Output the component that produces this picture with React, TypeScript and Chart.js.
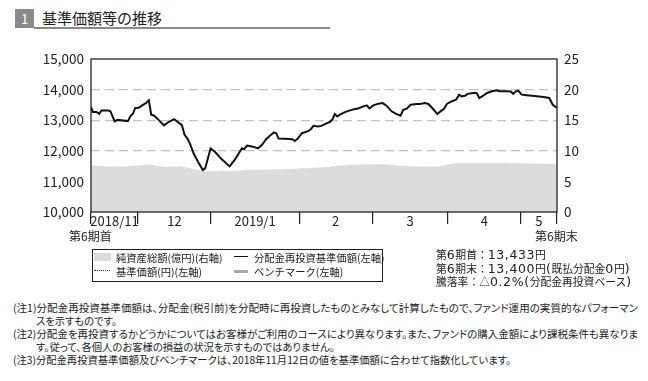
import React, { useEffect, useLayoutEffect, useRef } from "react";
import { Chart, registerables } from "chart.js";

Chart.register(...registerables);

// ---- data ----
const monthLabels = ["2018/11", "12", "2019/1", "2", "3", "4", "5"];
// month boundaries on the session-index axis (0 = 第6期首, 120 = 第6期末)
const monthBounds = [0, 12.1, 30.9, 53.6, 72.4, 91.9, 110.7, 120];

// 分配金再投資基準価額 (left axis, 円)
const navX = [
  0, 0.5, 1.4, 2.1, 2.7, 4.4, 5.0, 6.1, 6.8, 9.5, 10.2, 10.8, 11.4, 12.3, 13.4, 14.2, 14.9, 15.5, 16.2,
  17.4, 18.8, 19.8, 21.4, 22.2, 23.4, 24.1, 24.8, 25.5, 26.5, 27.7, 28.8, 29.4, 30.8, 31.9, 33.6, 35.7,
  37.0, 38.3, 38.9, 39.4, 40.2, 41.7, 43.0, 44.0, 45.1, 46.3, 47.1, 47.7, 48.3, 49.9, 51.8, 52.5, 53.3,
  54.3, 55.9, 56.6, 57.3, 58.5, 59.3, 60.8, 61.5, 62.2, 62.8, 63.4, 64.1, 65.4, 66.7, 68.0, 68.8, 70.1,
  71.0, 71.7, 72.7, 74.0, 75.1, 76.1, 77.4, 78.7, 79.7, 80.4, 81.3, 82.3, 83.9, 84.7, 86.0, 86.9, 88.1,
  89.2, 90.0, 90.9, 91.7, 92.9, 94.0, 94.8, 95.4, 96.3, 97.0, 98.4, 99.3, 100.0, 101.0, 102.0, 103.2,
  104.5, 105.1, 106.6, 108.1, 108.7, 109.4, 110.0, 110.9, 112.2, 114.8, 116.5, 118.0, 118.9, 120,
];
const navValues = [
  13433, 13267, 13267, 13210, 13320, 13320, 13290, 12960, 13010, 12970, 13145, 13210, 13400, 13410, 13500,
  13560, 13650, 13180, 13155, 13010, 12830, 12925, 13035, 12960, 12840, 12520, 12410, 12225, 11895, 11610,
  11370, 11425, 12080, 11970, 11730, 11490, 11700, 11970, 12080, 12050, 12170, 12135, 12080, 12190, 12380,
  12520, 12600, 12575, 12400, 12390, 12380, 12320, 12410, 12575, 12640, 12705, 12815, 12795, 12815, 12905,
  12940, 13035, 13200, 13125, 13180, 13265, 13320, 13365, 13385, 13450, 13485, 13385, 13485, 13540, 13560,
  13475, 13290, 13200, 13145, 13340, 13375, 13505, 13530, 13530, 13560, 13530, 13365, 13200, 13290, 13375,
  13540, 13615, 13670, 13835, 13780, 13800, 13860, 13890, 13890, 13725, 13800, 13890, 13945, 13980, 13945,
  13945, 13935, 13860, 13945, 13965, 13835, 13815, 13780, 13760, 13725, 13505, 13400,
];

// 純資産総額 (right axis, 億円)
const assetX = [0, 6.6, 11.8, 15.2, 19.5, 23.4, 28.8, 35.7, 40.9, 49.4, 56.4, 61.3, 62.3, 64.4, 74.4, 81.3, 89.0, 93.0, 94.2, 104.5, 120];
const assetValues = [7.6, 7.4, 7.6, 7.7, 7.4, 7.4, 6.75, 6.7, 6.9, 7.0, 7.2, 7.35, 7.5, 7.6, 7.8, 7.5, 7.45, 7.9, 8.0, 8.0, 7.85];

const leftTicks = [10000, 11000, 12000, 13000, 14000, 15000];
const rightTicks = [0, 5, 10, 15, 20, 25];

const summaryLines = ["第6期首：13,433円", "第6期末：13,400円(既払分配金0円)", "騰落率：△0.2%(分配金再投資ベース)"];

const FONT = "'Noto Sans CJK JP', 'Noto Sans', sans-serif";
const LATIN_FONT = "'DejaVu Sans', 'Noto Sans', sans-serif";

const frame = {
  id: "frame",
  afterDatasetsDraw(chart: any) {
    const { ctx, chartArea } = chart;
    const { left, top, right, bottom } = chartArea;
    ctx.save();
    ctx.strokeStyle = "#222";
    ctx.lineWidth = 1.3;
    ctx.strokeRect(left, top, right - left, bottom - top);
    ctx.restore();
  },
};

function ChartCanvas() {
  const ref = useRef<HTMLCanvasElement>(null);
  useEffect(() => {
    if (!ref.current) return;
    const mids = monthLabels.map((_, i) => (monthBounds[i] + monthBounds[i + 1]) / 2);
    const xTicks = [...monthBounds, ...mids].sort((a, b) => a - b);
    const chart = new Chart(ref.current, {
      type: "line",
      data: {
        datasets: [
          {
            label: "分配金再投資基準価額",
            data: navX.map((x, i) => ({ x, y: navValues[i] })),
            yAxisID: "y",
            borderColor: "#111",
            borderWidth: 2,
            pointRadius: 0,
            tension: 0,
            fill: false,
            order: 1,
          },
          {
            label: "純資産総額",
            data: assetX.map((x, i) => ({ x, y: assetValues[i] })),
            yAxisID: "y1",
            borderWidth: 0,
            borderColor: "rgba(0,0,0,0)",
            backgroundColor: "#dcdcdc",
            pointRadius: 0,
            tension: 0.3,
            fill: "origin",
            order: 2,
          },
        ],
      },
      options: {
        animation: false,
        responsive: false,
        maintainAspectRatio: false,
        layout: { padding: { top: 59, left: 0, right: 0, bottom: 0 } },
        plugins: { legend: { display: false }, tooltip: { enabled: false } },
        scales: {
          x: {
            type: "linear",
            min: 0,
            max: 120,
            afterBuildTicks: (s: any) => {
              s.ticks = xTicks.map((v) => ({ value: v }));
            },
            afterFit: (s: any) => {
              s.height = 38;
            },
            ticks: {
              autoSkip: false,
              maxRotation: 0,
              minRotation: 0,
              padding: -11,
              color: "#222",
              font: { family: FONT, size: 13 },
              callback: (v: any) => {
                const i = mids.indexOf(v);
                return i >= 0 ? monthLabels[i] : "";
              },
            },
            grid: {
              drawOnChartArea: false,
              drawTicks: true,
              tickLength: 12,
              lineWidth: 1.2,
              color: (c: any) => (c.tick && monthBounds.includes(c.tick.value) ? "#222" : "rgba(0,0,0,0)"),
            },
            border: { display: false },
          },
          y: {
            position: "left",
            min: leftTicks[0],
            max: leftTicks[leftTicks.length - 1],
            afterBuildTicks: (s: any) => {
              s.ticks = leftTicks.map((v) => ({ value: v }));
            },
            afterFit: (s: any) => {
              s.width = 91;
            },
            ticks: {
              padding: 7,
              color: "#222",
              font: { family: FONT, size: 13.5 },
              callback: (v: any) => Number(v).toLocaleString("en-US"),
            },
            grid: {
              drawTicks: false,
              lineWidth: 1.2,
              color: (c: any) =>
                c.tick && c.tick.value > leftTicks[0] && c.tick.value < leftTicks[leftTicks.length - 1]
                  ? "#c2c2c2"
                  : "rgba(0,0,0,0)",
            },
            border: { display: false, dash: [9, 5] },
          },
          y1: {
            position: "right",
            min: rightTicks[0],
            max: rightTicks[rightTicks.length - 1],
            afterBuildTicks: (s: any) => {
              s.ticks = rightTicks.map((v) => ({ value: v }));
            },
            afterFit: (s: any) => {
              s.width = 91;
            },
            ticks: {
              padding: 7,
              color: "#222",
              font: { family: FONT, size: 13.5 },
            },
            grid: { display: false, drawTicks: false },
            border: { display: false },
          },
        },
      },
      plugins: [frame],
    } as any);
    return () => chart.destroy();
  }, []);
  return <canvas ref={ref} width={648} height={250} style={{ position: "absolute", left: 0, top: 0, width: 648, height: 250 }} />;
}

// a line of text squeezed/stretched horizontally to a given width
function FitLine({ width, children, style }: { width: number; children: React.ReactNode; style?: React.CSSProperties }) {
  const ref = useRef<HTMLSpanElement>(null);
  useLayoutEffect(() => {
    const el = ref.current;
    if (!el) return;
    el.style.transform = "none";
    const w = el.getBoundingClientRect().width;
    if (w > 0) el.style.transform = `scaleX(${width / w})`;
  }, [width]);
  return (
    <div style={{ height: 13, ...style }}>
      <span ref={ref} style={{ display: "inline-block", whiteSpace: "nowrap", transformOrigin: "0 0" }}>
        {children}
      </span>
    </div>
  );
}

// mixed text: ASCII runs in a wider latin face
function Mixed({ text }: { text: string }) {
  const parts = text.split(/([\x20-\x7E]+)/).filter((p) => p.length > 0);
  return (
    <>
      {parts.map((p, i) =>
        /^[\x20-\x7E]+$/.test(p) ? (
          <span key={i} style={{ fontFamily: LATIN_FONT, fontSize: 12.5, letterSpacing: 0.6 }}>
            {p}
          </span>
        ) : (
          <span key={i}>{p}</span>
        )
      )}
    </>
  );
}

const abs = (left: number, top: number, extra: React.CSSProperties = {}): React.CSSProperties => ({
  position: "absolute",
  left,
  top,
  whiteSpace: "nowrap",
  ...extra,
});

export default function App() {
  const noteStyle: React.CSSProperties = {
    fontSize: 10.3,
    lineHeight: "13px",
    color: "#222",
    fontFamily: FONT,
    fontFeatureSettings: '"palt"',
  };
  const legendText: React.CSSProperties = { fontSize: 10.3, lineHeight: "15px" };
  return (
    <div
      style={{
        position: "fixed",
        left: 0,
        top: 0,
        width: 648,
        height: 381,
        background: "#fff",
        overflow: "hidden",
        fontFamily: FONT,
        color: "#222",
      }}
    >
      {/* title */}
      <div style={abs(15, 9, { width: 19, height: 19, background: "#8a8a8a", color: "#fff", fontSize: 13, lineHeight: "19px", textAlign: "center" })}>1</div>
      <div style={abs(34, 26.5, { width: 296, height: 2, background: "#8a8a8a" })} />
      <div style={abs(42, 7.5, { fontSize: 15, lineHeight: "20px", color: "#222" })}>基準価額等の推移</div>

      <ChartCanvas />

      <div style={abs(69, 228, { fontSize: 12, lineHeight: "16px" })}>第6期首</div>
      <div style={abs(535, 228, { fontSize: 12, lineHeight: "16px" })}>第6期末</div>

      {/* legend */}
      <div style={abs(92, 249, { width: 291, height: 33, border: "1.2px solid #222", boxSizing: "border-box" })} />
      <div style={abs(94, 253, { width: 17, height: 8, background: "#dcdcdc" })} />
      <div style={abs(116, 249.5, legendText)}>純資産総額(億円)(右軸)</div>
      <div style={abs(234, 256, { width: 14, height: 0, borderTop: "1.5px solid #111" })} />
      <div style={abs(254, 249.5, legendText)}>分配金再投資基準価額(左軸)</div>
      <div style={abs(94, 270, { width: 16, height: 0, borderTop: "1px dotted #444" })} />
      <div style={abs(116, 263.5, legendText)}>基準価額(円)(左軸)</div>
      <div style={abs(234, 269.5, { width: 14, height: 3, background: "#a8a8a8" })} />
      <div style={abs(254, 263.5, legendText)}>ベンチマーク(左軸)</div>

      {/* summary */}
      <div style={abs(436, 248, { fontSize: 10.8, lineHeight: "13.6px" })}>
        {summaryLines.map((s, i) => (
          <div key={i} style={{ height: 13.6 }}>
            <Mixed text={s} />
          </div>
        ))}
      </div>

      {/* notes */}
      <div style={abs(13, 301, noteStyle)}>
        <FitLine width={625}>(注1)分配金再投資基準価額は、分配金(税引前)を分配時に再投資したものとみなして計算したもので、ファンド運用の実質的なパフォーマン</FitLine>
        <div style={{ paddingLeft: 23, height: 13 }}>スを示すものです。</div>
        <FitLine width={625}>(注2)分配金を再投資するかどうかについてはお客様がご利用のコースにより異なります。また、ファンドの購入金額により課税条件も異なりま</FitLine>
        <div style={{ paddingLeft: 23, height: 13 }}>す。従って、各個人のお客様の損益の状況を示すものではありません。</div>
        <div style={{ height: 13 }}>(注3)分配金再投資基準価額及びベンチマークは、2018年11月12日の値を基準価額に合わせて指数化しています。</div>
      </div>
    </div>
  );
}
